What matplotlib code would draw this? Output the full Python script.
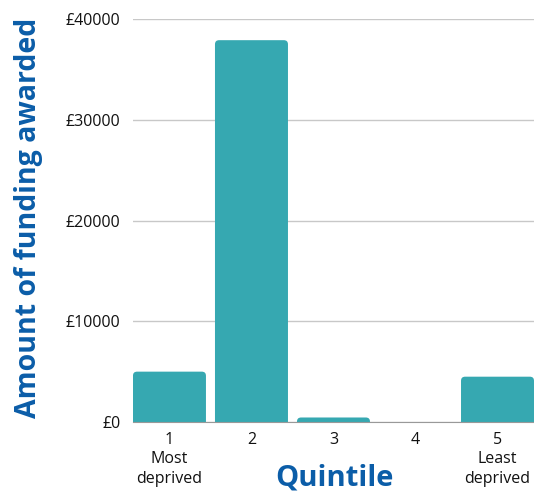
import matplotlib.pyplot as plt
from matplotlib.patches import FancyBboxPatch
import numpy as np

plt.rcParams['font.family'] = ['Open Sans', 'DejaVu Sans']

quintiles = ['1\nMost\ndeprived', '2', '3', '4', '5\nLeast\ndeprived']
funding = [5000, 37900, 450, 0, 4500]
yticks = [0, 10000, 20000, 30000, 40000]

bar_col = '#36A8B1'
blue = '#0B5DA8'

fig = plt.figure(figsize=(5.34, 4.94), dpi=100)
ax = fig.add_axes([0.249, 0.1457, 0.751, 0.8158])

x = np.arange(len(funding))
w = 0.89
ax.set_xlim(-w / 2, len(funding) - 1 + w / 2)
ax.set_ylim(0, 40000)

# bars with rounded top corners (bottom pushed below the axis and clipped)
r = 0.05
asp = (40000 / 403.0) / ((len(funding) - 1 + w) / 401.0)
for xi, v in zip(x, funding):
    if v <= 0:
        continue
    p = FancyBboxPatch((xi - w / 2, -1000), w, v + 1000,
                       boxstyle='round,pad=0,rounding_size=%f' % r,
                       mutation_aspect=asp, facecolor=bar_col, edgecolor='none',
                       zorder=3, clip_on=True)
    ax.add_patch(p)

ax.set_yticks(yticks)
ax.set_yticklabels(['£%d' % v for v in yticks])
ax.set_xticks(x)
ax.set_xticklabels(quintiles, linespacing=1.3, va='top')

ax.grid(axis='y', color='#c8c8c8', linewidth=1, zorder=0)
for s in ['top', 'right', 'left']:
    ax.spines[s].set_visible(False)
ax.spines['bottom'].set_color('#999999')
ax.spines['bottom'].set_zorder(4)
ax.tick_params(axis='both', length=0, labelsize=11.5, colors='#111111')
ax.tick_params(axis='y', pad=9)
ax.tick_params(axis='x', pad=7)

fig.text(0.053, 0.559, 'Amount of funding awarded', rotation=90, ha='center', va='center',
         fontsize=20.5, fontweight='bold', color=blue)
fig.text(0.627, 0.033, 'Quintile', ha='center', va='center',
         fontsize=21, fontweight='bold', color=blue)

fig.savefig('out.png', dpi=100)
